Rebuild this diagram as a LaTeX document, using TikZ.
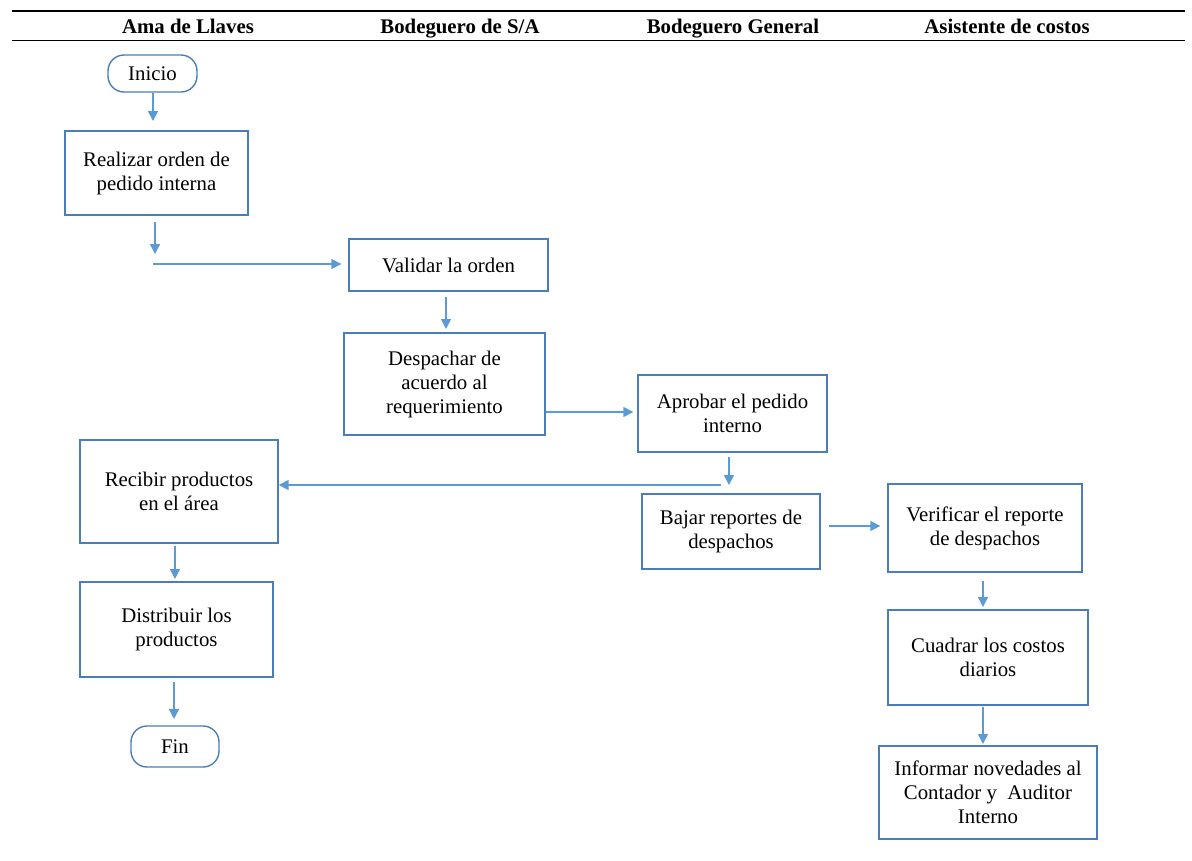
\documentclass[tikz,border=0pt]{standalone}
\usepackage{fontspec}
\setmainfont{Liberation Serif}
\usetikzlibrary{arrows.meta}
\definecolor{boxblue}{HTML}{4A7EBB}
\definecolor{arrblue}{HTML}{5B9BD5}
\begin{document}
\begin{tikzpicture}[x=1pt,y=-1pt,
  txt/.style={font=\fontsize{20.8}{24}\selectfont},
  hdr/.style={font=\fontsize{20.8}{24}\selectfont\bfseries, anchor=base, inner sep=0pt},
  box/.style={draw=boxblue, line width=1.4pt, align=center, inner sep=0pt, txt},
  term/.style={box, rounded corners=16pt},
  arr/.style={draw=arrblue, line width=1.5pt, -{Triangle[length=10pt,width=10pt]}},
  rule/.style={line width=1.6pt, black}]
\useasboundingbox (0,0) rectangle (1192,860);
% header
\coordinate (hl1) at (12,11);
\coordinate (hr1) at (1185,11);
\coordinate (hl2) at (12,40.5);
\coordinate (hr2) at (1185,40.5);
\draw[rule] (hl1) -- (hr1);
\draw[rule] (hl2) -- (hr2);
\node[hdr] (h1) at (188,33) {Ama de Llaves};
\node[hdr] (h2) at (460,33) {Bodeguero de S/A};
\node[hdr] (h3) at (733,33) {Bodeguero General};
\node[hdr] (h4) at (1007,33) {Asistente de costos};
% nodes
\node[term, minimum width=89pt, minimum height=37pt] (ini) at (152.5,73.5) {Inicio};
\node[box, minimum width=183pt, minimum height=84pt] (ord) at (156.5,173) {Realizar orden de\\pedido interna};
\node[box, minimum width=199pt, minimum height=52pt] (val) at (448.5,265) {Validar la orden};
\node[box, minimum width=201pt, minimum height=102pt] (des) at (444.5,384) {Despachar de\\acuerdo al\\requerimiento};
\node[box, minimum width=189pt, minimum height=77pt] (apr) at (732.5,413.5) {Aprobar el pedido\\interno};
\node[box, minimum width=198pt, minimum height=103pt] (rec) at (179,491.5) {Recibir productos\\en el área};
\node[box, minimum width=193pt, minimum height=95pt] (dis) at (176.5,629.5) {Distribuir los\\productos};
\node[term, minimum width=88pt, minimum height=41pt] (fin) at (175,746.5) {Fin};
\node[box, minimum width=178pt, minimum height=75pt] (baj) at (731,531.5) {Bajar reportes de\\despachos};
\node[box, minimum width=194pt, minimum height=88pt] (ver) at (985,528) {Verificar el reporte\\de despachos};
\node[box, minimum width=200pt, minimum height=95pt] (cua) at (988,657.5) {Cuadrar los costos\\diarios};
\node[box, minimum width=218pt, minimum height=93pt] (inf) at (988,792.5) {Informar novedades al\\Contador y~ Auditor\\Interno};
% connector points
\coordinate (a1s) at (153,93);
\coordinate (a1e) at (153,121);
\coordinate (a2s) at (155,222);
\coordinate (a2e) at (155,254);
\coordinate (a3s) at (153,264);
\coordinate (a4s) at (446,297);
\coordinate (a4e) at (446,329);
\coordinate (a5s) at (546,412);
\coordinate (a6s) at (729,457);
\coordinate (a6e) at (729,485);
\coordinate (a7s) at (721,485);
\coordinate (a8s) at (175,546);
\coordinate (a8e) at (175,579);
\coordinate (a9s) at (174,682);
\coordinate (a9e) at (174,719);
\coordinate (a10s) at (829,526);
\coordinate (a11s) at (983,581);
\coordinate (a11e) at (983,607);
\coordinate (a12s) at (983,707);
\coordinate (a12e) at (983,744);
% connectors
\draw[arr] (a1s) -- (a1e);
\draw[arr] (a2s) -- (a2e);
\draw[arr] (a3s) -- ([xshift=-7pt]val.west|-a3s);
\draw[arr] (a4s) -- (a4e);
\draw[arr] (a5s) -- ([xshift=-4pt]apr.west|-a5s);
\draw[arr] (a6s) -- (a6e);
\draw[arr] (a7s) -- (rec.east|-a7s);
\draw[arr] (a8s) -- (a8e);
\draw[arr] (a9s) -- (a9e);
\draw[arr] (a10s) -- ([xshift=-7pt]ver.west|-a10s);
\draw[arr] (a11s) -- (a11e);
\draw[arr] (a12s) -- (a12e);
\end{tikzpicture}
\end{document}
